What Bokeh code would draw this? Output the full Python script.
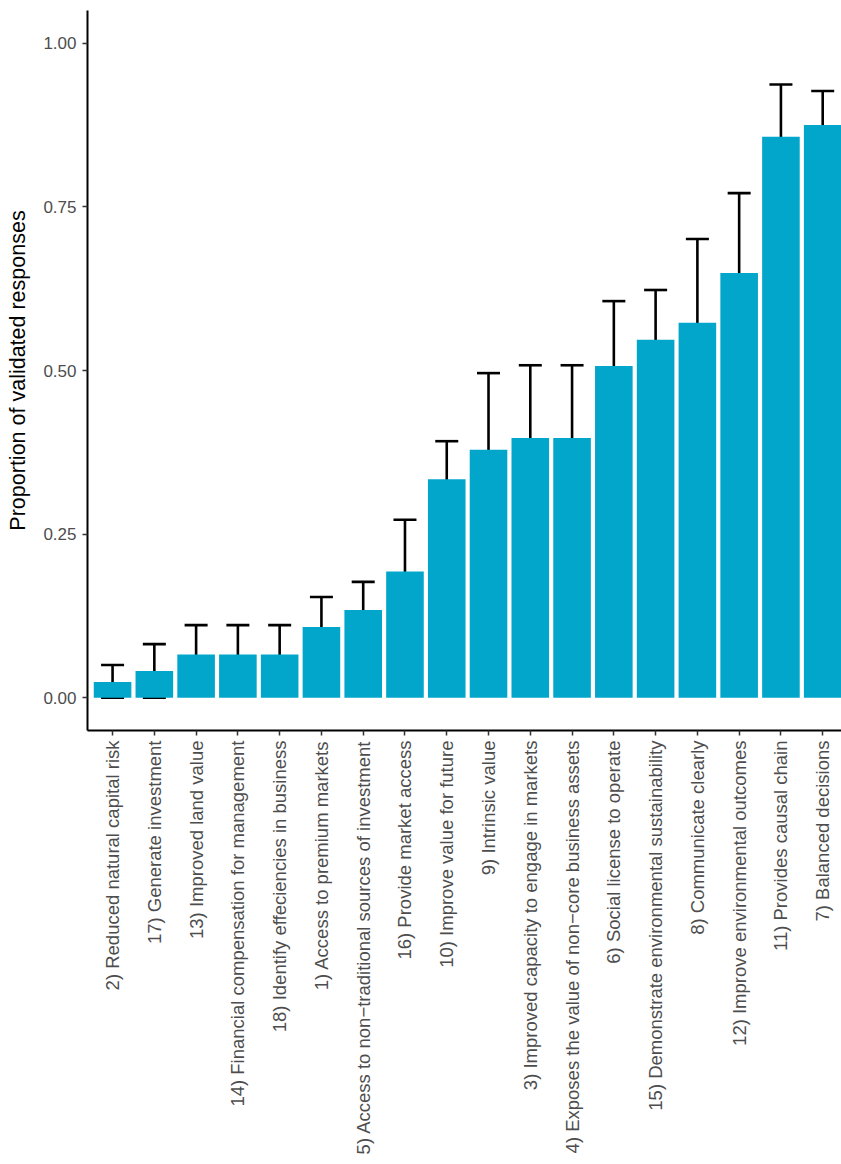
import math
from bokeh.plotting import figure
from bokeh.models import ColumnDataSource, Whisker, TeeHead, FixedTicker, Range1d, NumeralTickFormatter
from bokeh.embed import file_html
from bokeh.resources import INLINE

labels = [
    "2) Reduced natural capital risk",
    "17) Generate investment",
    "13) Improved land value",
    "14) Financial compensation for management",
    "18) Identify effeciencies in business",
    "1) Access to premium markets",
    "5) Access to non\u2212traditional sources of investment",
    "16) Provide market access",
    "10) Improve value for future",
    "9) Intrinsic value",
    "3) Improved capacity to engage in markets",
    "4) Exposes the value of non\u2212core business assets",
    "6) Social license to operate",
    "15) Demonstrate environmental sustainability",
    "8) Communicate clearly",
    "12) Improve environmental outcomes",
    "11) Provides causal chain",
    "7) Balanced decisions",
]
proportion = [0.024, 0.041, 0.066, 0.066, 0.066, 0.108, 0.134, 0.193, 0.334, 0.379,
              0.397, 0.397, 0.507, 0.547, 0.573, 0.649, 0.857, 0.875]
lower = [0.0, 0.0, 0.021, 0.021, 0.021, 0.063, 0.090, 0.113, 0.275, 0.261,
         0.285, 0.285, 0.408, 0.473, 0.449, 0.528, 0.779, 0.821]
upper = [0.050, 0.082, 0.111, 0.111, 0.111, 0.154, 0.177, 0.272, 0.392, 0.496,
         0.508, 0.508, 0.606, 0.623, 0.701, 0.771, 0.937, 0.927]
y_ticks = [0.0, 0.25, 0.5, 0.75, 1.0]

pos = list(range(1, len(labels) + 1))
source = ColumnDataSource(dict(x=pos, prop=proportion, lower=lower, upper=upper, label=labels))

FONT = "Liberation Sans"

p = figure(width=841, height=1164, output_backend="svg", toolbar_location=None,
           x_range=Range1d(0.4, 18.45), y_range=Range1d(-0.05, 1.05),
           min_border_left=87, min_border_right=0, min_border_top=10, min_border_bottom=434)
p.outline_line_color = None
p.xgrid.visible = False
p.ygrid.visible = False
p.background_fill_color = "white"
p.border_fill_color = "white"

p.vbar(x="x", top="prop", bottom=0, width=0.9, source=source,
       fill_color="#03A6CB", line_color=None)

w = Whisker(base="x", upper="upper", lower="lower", source=source,
            line_color="black", line_width=2.6,
            upper_head=TeeHead(size=23, line_color="black", line_width=2.6),
            lower_head=TeeHead(size=23, line_color="black", line_width=2.6))
p.add_layout(w)

xa = p.xaxis[0]
xa.ticker = FixedTicker(ticks=pos)
xa.major_label_overrides = {i: l for i, l in zip(pos, labels)}
xa.major_label_orientation = math.pi / 2
xa.major_label_text_font = FONT
xa.major_label_text_font_size = "18.5px"
xa.major_label_text_color = "#4D4D4D"
xa.major_label_standoff = 5
xa.axis_line_color = "black"
xa.axis_line_width = 2
xa.major_tick_line_color = "#333333"
xa.major_tick_line_width = 1.5
xa.major_tick_out = 5
xa.major_tick_in = 0
xa.minor_tick_line_color = None

ya = p.yaxis[0]
ya.ticker = FixedTicker(ticks=y_ticks)
ya.formatter = NumeralTickFormatter(format="0.00")
ya.major_label_text_font = FONT
ya.major_label_text_font_size = "17px"
ya.major_label_text_color = "#4D4D4D"
ya.major_label_standoff = 6
ya.axis_line_color = "black"
ya.axis_line_width = 2
ya.major_tick_line_color = "#333333"
ya.major_tick_line_width = 1.5
ya.major_tick_out = 5
ya.major_tick_in = 0
ya.minor_tick_line_color = None
ya.axis_label = "Proportion of validated responses"
ya.axis_label_text_font = FONT
ya.axis_label_text_font_size = "21.5px"
ya.axis_label_text_font_style = "normal"
ya.axis_label_text_color = "black"
ya.axis_label_standoff = 10

open("out.html", "w").write(file_html(p, INLINE))
